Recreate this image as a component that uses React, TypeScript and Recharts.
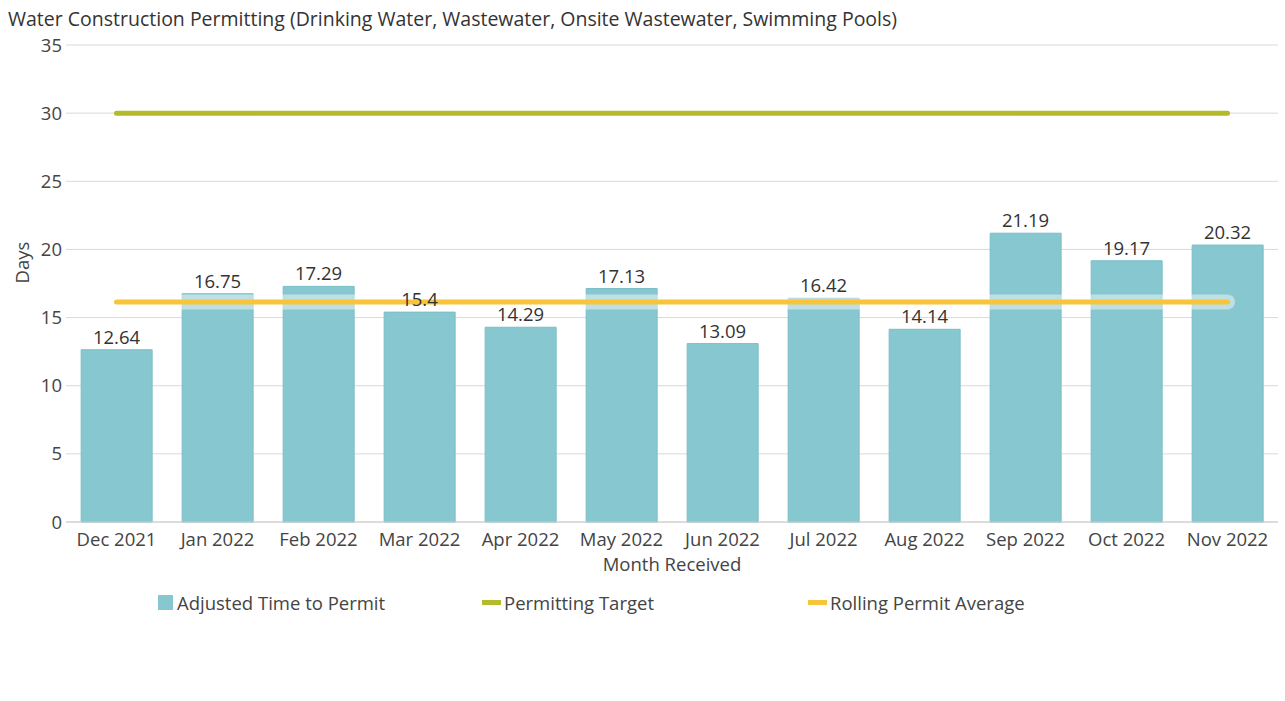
import { Bar, ComposedChart, CartesianGrid, Line, LabelList, XAxis, YAxis, Legend } from "recharts";

const MONTHS = ["Dec 2021", "Jan 2022", "Feb 2022", "Mar 2022", "Apr 2022", "May 2022", "Jun 2022", "Jul 2022", "Aug 2022", "Sep 2022", "Oct 2022", "Nov 2022"];
const ADJUSTED = [12.64, 16.75, 17.29, 15.4, 14.29, 17.13, 13.09, 16.42, 14.14, 21.19, 19.17, 20.32];
const TARGET = [30, 30, 30, 30, 30, 30, 30, 30, 30, 30, 30, 30];
const ROLLING = [16.15, 16.15, 16.15, 16.15, 16.15, 16.15, 16.15, 16.15, 16.15, 16.15, 16.15, 16.15];
const Y_TICKS = [0, 5, 10, 15, 20, 25, 30, 35];

const FONT = "'Open Sans', 'Noto Sans', sans-serif";
const FS = 18.5;
const BAR_FILL = "#87c7cf";
const GREEN = "#b5ba2b";
const YELLOW = "#f8c53a";

const data = MONTHS.map((month, i) => ({
  month,
  adjusted: ADJUSTED[i],
  target: TARGET[i],
  rolling: ROLLING[i],
}));

const LEGEND_ITEMS = [
  { label: "Adjusted Time to Permit", color: BAR_FILL, kind: "square", left: 158 },
  { label: "Permitting Target", color: GREEN, kind: "line", left: 482 },
  { label: "Rolling Permit Average", color: YELLOW, kind: "line", left: 808 },
];

function CustomLegend() {
  return (
    <div style={{ position: "relative", height: 26, fontFamily: FONT, fontSize: FS, color: "#444" }}>
      {LEGEND_ITEMS.map((item) => (
        <div key={item.label} style={{ position: "absolute", left: item.left, top: 0, display: "flex", alignItems: "center" }}>
          {item.kind === "square" ? (
            <span style={{ display: "inline-block", width: 15, height: 15, background: item.color, marginRight: 4 }} />
          ) : (
            <span style={{ display: "inline-block", width: 19, height: 5, background: item.color, marginRight: 3 }} />
          )}
          <span>{item.label}</span>
        </div>
      ))}
    </div>
  );
}

export default function App() {
  return (
    <div style={{ position: "absolute", left: 0, top: 0, width: 1285, height: 701, background: "#fff", fontFamily: FONT }}>
      <div style={{ position: "absolute", left: 8, top: 5, fontSize: 19.5, color: "#333", whiteSpace: "nowrap" }}>
        Water Construction Permitting (Drinking Water, Wastewater, Onsite Wastewater, Swimming Pools)
      </div>
      <ComposedChart
        width={1285}
        height={701}
        data={data}
        margin={{ top: 45, right: 7, bottom: 93, left: 0 }}
        barCategoryGap="15%"
        style={{ fontFamily: FONT }}
      >
        <CartesianGrid vertical={false} stroke="#d9d9d9" />
        <XAxis
          dataKey="month"
          tickLine={false}
          axisLine={{ stroke: "#cccccc" }}
          tick={{ fontSize: FS, fill: "#444" }}
          tickMargin={5}
          height={60}
          interval={0}
          label={{ value: "Month Received", position: "insideBottom", offset: 11, fontSize: FS, fill: "#444" }}
        />
        <YAxis
          domain={[0, 35]}
          ticks={Y_TICKS}
          width={66}
          tickLine={false}
          axisLine={false}
          tickSize={4}
          tickMargin={0}
          tick={{ fontSize: FS, fill: "#444" }}
          label={{ value: "Days", angle: -90, position: "insideLeft", offset: 22, fontSize: FS, fill: "#444" }}
        />
        <Legend
          verticalAlign="bottom"
          content={() => <CustomLegend />}
          wrapperStyle={{ left: 0, top: 590, width: 1285 }}
        />
        <Bar dataKey="adjusted" fill={BAR_FILL} stroke="#7bbec8" strokeWidth={1} isAnimationActive={false} />
        <Line
          dataKey="target"
          type="linear"
          stroke={GREEN}
          strokeWidth={5}
          strokeLinecap="round"
          dot={false}
          activeDot={false}
          isAnimationActive={false}
        />
        <Line
          dataKey="rolling"
          type="linear"
          stroke="#ffffff"
          strokeOpacity={0.45}
          strokeWidth={15}
          strokeLinecap="round"
          dot={false}
          activeDot={false}
          legendType="none"
          isAnimationActive={false}
        />
        <Line
          dataKey="rolling"
          type="linear"
          stroke={YELLOW}
          strokeWidth={5}
          strokeLinecap="round"
          dot={false}
          activeDot={false}
          isAnimationActive={false}
        />
        <Line
          dataKey="adjusted"
          stroke="none"
          dot={false}
          activeDot={false}
          legendType="none"
          isAnimationActive={false}
        >
          <LabelList dataKey="adjusted" position="top" offset={6} fontSize={FS} fill="#333" />
        </Line>
      </ComposedChart>
    </div>
  );
}
